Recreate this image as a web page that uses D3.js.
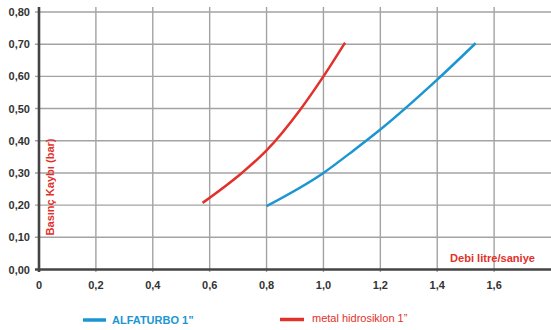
<!DOCTYPE html>
<html><head><meta charset="utf-8">
<script src="https://cdn.jsdelivr.net/npm/d3@7"></script>
<style>body{margin:0;background:#fff}svg{display:block;font-family:"Liberation Sans",Arial,sans-serif}</style>
</head><body><svg id="c" width="551" height="330"></svg>
<script>
const xTicks = [0, 0.2, 0.4, 0.6, 0.8, 1.0, 1.2, 1.4, 1.6];
const xTickLabels = ["0", "0,2", "0,4", "0,6", "0,8", "1,0", "1,2", "1,4", "1,6"];
const yTicks = [0, 0.1, 0.2, 0.3, 0.4, 0.5, 0.6, 0.7, 0.8];
const yTickLabels = ["0,00", "0,10", "0,20", "0,30", "0,40", "0,50", "0,60", "0,70", "0,80"];
const alfaX = [0.80, 1.00, 1.106, 1.20, 1.40, 1.535];
const alfaY = [0.197, 0.30, 0.37, 0.435, 0.59, 0.703];
const metalX = [0.575, 0.713, 0.80, 0.917, 1.00, 1.076];
const metalY = [0.207, 0.30, 0.37, 0.495, 0.60, 0.705];
const seriesNames = ["ALFATURBO 1\u201d", "metal hidrosiklon 1\u201d"];
const yTitle = "Basınç Kaybı (bar)";
const xTitle = "Debi litre/saniye";

const svg = d3.select("#c");
const x = d3.scaleLinear().domain([0, 1.8]).range([39, 551]);
const y = d3.scaleLinear().domain([0, 0.8]).range([269.5, 12]);
const blue = "#1b96d3", red = "#e2312b";

// grid
svg.append("g").selectAll("line").data(xTicks.slice(1)).join("line")
  .attr("x1", d => x(d)).attr("x2", d => x(d)).attr("y1", 7).attr("y2", 272)
  .attr("stroke", "#a3a3a3").attr("stroke-width", 1.4);
svg.append("g").selectAll("line").data(yTicks.slice(1)).join("line")
  .attr("x1", 35).attr("x2", 551).attr("y1", d => y(d)).attr("y2", d => y(d))
  .attr("stroke", "#a3a3a3").attr("stroke-width", 1.4);

// axes lines
svg.append("line").attr("x1", x(0)).attr("x2", x(0)).attr("y1", 7).attr("y2", 272)
  .attr("stroke", "#444").attr("stroke-width", 2.6);
svg.append("line").attr("x1", 35).attr("x2", 551).attr("y1", y(0)).attr("y2", y(0))
  .attr("stroke", "#444").attr("stroke-width", 2.6);

// tick labels
svg.append("g").selectAll("text").data(yTicks).join("text")
  .attr("x", 30).attr("y", d => y(d) + 4).attr("text-anchor", "end")
  .attr("font-size", 11).attr("font-weight", "bold").attr("fill", "#333")
  .text((d, i) => yTickLabels[i]);
svg.append("g").selectAll("text").data(xTicks).join("text")
  .attr("x", d => x(d)).attr("y", 289).attr("text-anchor", "middle")
  .attr("font-size", 11).attr("font-weight", "bold").attr("fill", "#333")
  .text((d, i) => xTickLabels[i]);

// titles
svg.append("text").attr("transform", "translate(54,187) rotate(-90)")
  .attr("text-anchor", "middle").attr("font-size", 11).attr("font-weight", "bold")
  .attr("fill", red).attr("textLength", 97).attr("lengthAdjust", "spacingAndGlyphs").text(yTitle);
svg.append("text").attr("x", 535).attr("y", 262).attr("text-anchor", "end")
  .attr("font-size", 11).attr("font-weight", "bold").attr("fill", red)
  .attr("textLength", 85).attr("lengthAdjust", "spacingAndGlyphs").text(xTitle);

// curves
const line = d3.line().x(d => x(d[0])).y(d => y(d[1])).curve(d3.curveMonotoneX);
svg.append("path").datum(alfaX.map((v, i) => [v, alfaY[i]])).attr("d", line)
  .attr("fill", "none").attr("stroke", blue).attr("stroke-width", 2.5);
svg.append("path").datum(metalX.map((v, i) => [v, metalY[i]])).attr("d", line)
  .attr("fill", "none").attr("stroke", red).attr("stroke-width", 2.5);

// legend
svg.append("line").attr("x1", 83).attr("x2", 106).attr("y1", 320).attr("y2", 320)
  .attr("stroke", blue).attr("stroke-width", 3.5);
svg.append("text").attr("x", 112).attr("y", 324).attr("font-size", 11).attr("font-weight", "bold")
  .attr("fill", blue).text(seriesNames[0]);
svg.append("line").attr("x1", 280).attr("x2", 304).attr("y1", 319.5).attr("y2", 319.5)
  .attr("stroke", red).attr("stroke-width", 3.5);
svg.append("text").attr("x", 312).attr("y", 322).attr("font-size", 11)
  .attr("fill", red).text(seriesNames[1]);
</script></body></html>
